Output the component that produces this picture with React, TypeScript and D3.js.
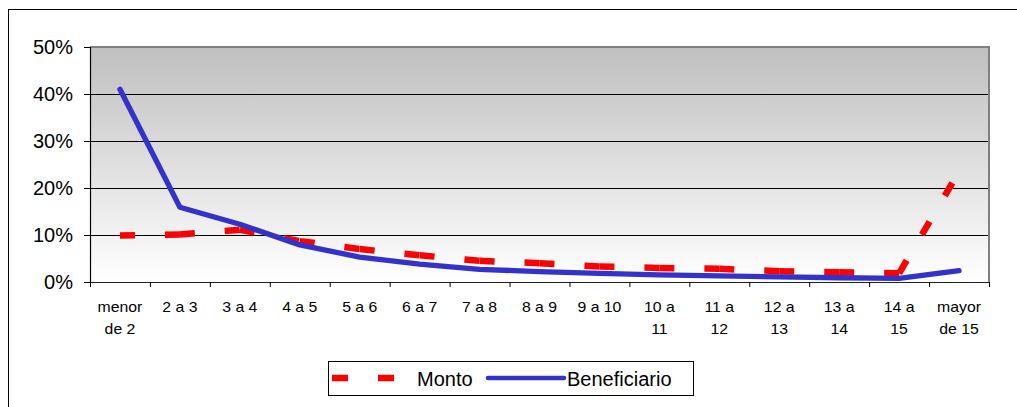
import React from "react";
import * as d3 from "d3";

const categories: string[][] = [
  ["menor", "de 2"], ["2 a 3"], ["3 a 4"], ["4 a 5"], ["5 a 6"], ["6 a 7"], ["7 a 8"],
  ["8 a 9"], ["9 a 10"], ["10 a", "11"], ["11 a", "12"], ["12 a", "13"], ["13 a", "14"],
  ["14 a", "15"], ["mayor", "de 15"],
];
const montoValues = [9.9, 10.1, 11.1, 8.7, 7.0, 5.7, 4.5, 4.0, 3.3, 3.0, 2.8, 2.3, 2.05, 1.85, 23.5];
const beneficiarioValues = [41.0, 15.9, 12.3, 7.9, 5.3, 3.8, 2.7, 2.2, 1.85, 1.5, 1.3, 1.1, 0.9, 0.75, 2.4];
const yTicks = [0, 10, 20, 30, 40, 50];
const seriesNames = ["Monto", "Beneficiario"];

const W = 1017, H = 407;
const plot = { left: 90, top: 47, right: 989, bottom: 282 };

export default function App() {
  const x = d3.scaleBand<number>()
    .domain(categories.map((_, i) => i))
    .range([plot.left, plot.right]);
  const y = d3.scaleLinear().domain([0, 50]).range([plot.bottom, plot.top]);
  const cx = (i: number) => (x(i) as number) + x.bandwidth() / 2;

  const line = d3.line<number>().x((_, i) => cx(i)).y((d) => y(d));
  const segLine = d3.line<[number, number]>().x((d) => cx(d[0])).y((d) => y(d[1]));
  const font = "'Liberation Sans', Arial, sans-serif";
  const boundaries = d3.range(categories.length + 1).map((i) => plot.left + i * x.bandwidth());
  const montoSegments = d3.pairs(montoValues.map((v, i) => [i, v] as [number, number]));

  return (
    <svg width={W} height={H} style={{ position: "absolute", left: 0, top: 0, background: "#fff" }}>
      <defs>
        <linearGradient id="bg" x1="0" y1="0" x2="0" y2="1">
          <stop offset="0" stopColor="#bfbfbf" />
          <stop offset="1" stopColor="#ffffff" />
        </linearGradient>
      </defs>
      {/* outer chart frame */}
      <rect x={8.5} y={9.5} width={W + 10} height={H + 10} fill="#fff" stroke="#000" strokeWidth={1} />
      {/* plot area */}
      <rect x={plot.left} y={plot.top} width={plot.right - plot.left} height={plot.bottom - plot.top} fill="url(#bg)" />
      {yTicks.filter((t) => t > 0 && t < 50).map((t) => (
        <line key={t} x1={plot.left} x2={plot.right} y1={Math.round(y(t)) + 0.5} y2={Math.round(y(t)) + 0.5} stroke="#000" strokeWidth={1} />
      ))}
      <line x1={plot.left} x2={plot.right + 1} y1={plot.top} y2={plot.top} stroke="#808080" strokeWidth={2} />
      <line x1={plot.right} x2={plot.right} y1={plot.top} y2={plot.bottom} stroke="#808080" strokeWidth={2} />
      <line x1={plot.left} x2={plot.right} y1={plot.bottom + 0.5} y2={plot.bottom + 0.5} stroke="#222" strokeWidth={1.2} />
      <line x1={plot.left + 0.5} x2={plot.left + 0.5} y1={plot.top} y2={plot.bottom} stroke="#000" strokeWidth={1.2} />
      {/* y ticks and labels */}
      {yTicks.map((t) => (
        <g key={t}>
          <line x1={plot.left - 6} x2={plot.left} y1={Math.round(y(t)) + 0.5} y2={Math.round(y(t)) + 0.5} stroke="#000" />
          <text x={73} y={y(t)} dy="0.36em" textAnchor="end" fontFamily={font} fontSize={20} fill="#000">
            {t}%
          </text>
        </g>
      ))}
      {/* x ticks */}
      {boundaries.map((b, i) => (
        <line key={i} x1={b + 0.5} x2={b + 0.5} y1={plot.bottom} y2={plot.bottom + 5} stroke="#000" />
      ))}
      {categories.map((lines, i) => (
        <g key={i} transform={`translate(${cx(i)},0) scale(1.13,1)`}>
          {lines.map((s, k) => (
            <text key={k} x={0} y={312 + k * 22} textAnchor="middle" fontFamily={font} fontSize={14} fill="#000">
              {s}
            </text>
          ))}
        </g>
      ))}
      {/* series: Monto dashed, pattern restarting on each segment */}
      <g>
        {montoSegments.map((seg, i) => (
          <path key={i} d={segLine(seg) || ""} fill="none" stroke="#ff0000" strokeWidth={6.5}
            strokeDasharray="15 30" />
        ))}
      </g>
      <path d={line(beneficiarioValues) || ""} fill="none" stroke="#3333cc" strokeWidth={5.3}
        strokeLinejoin="round" strokeLinecap="round" />
      {/* legend */}
      <rect x={328.5} y={361.5} width={365} height={34} fill="#fff" stroke="#000" strokeWidth={1} />
      <line x1={332} x2={394} y1={378} y2={378} stroke="#ff0000" strokeWidth={6.5} strokeDasharray="16 30" />
      <text x={417} y={386} fontFamily={font} fontSize={20} fill="#000">{seriesNames[0]}</text>
      <line x1={488} x2={564} y1={378} y2={378} stroke="#3333cc" strokeWidth={4.5} strokeLinecap="round" />
      <text x={567} y={386} fontFamily={font} fontSize={20} fill="#000">{seriesNames[1]}</text>
    </svg>
  );
}
